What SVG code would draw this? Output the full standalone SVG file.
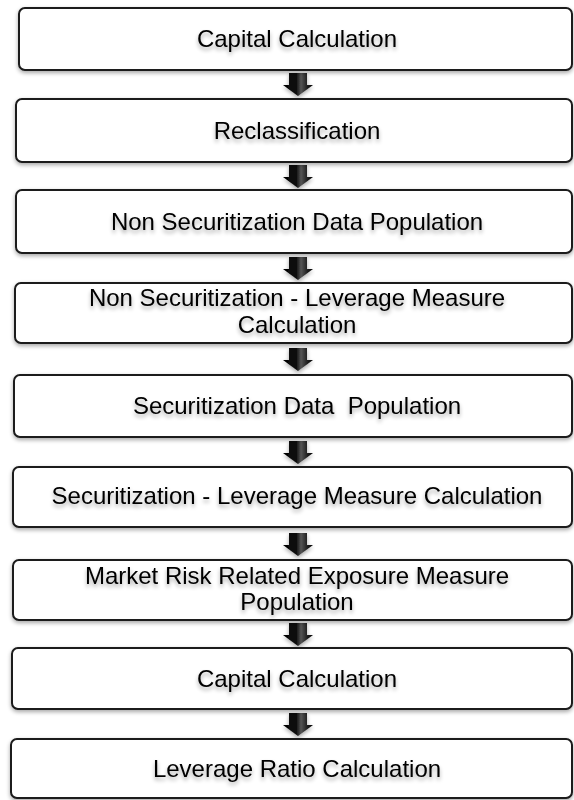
<svg xmlns="http://www.w3.org/2000/svg" width="574" height="800" viewBox="0 0 574 800">
<defs>
<filter id="sh" x="-5%" y="-20%" width="110%" height="150%">
<feGaussianBlur in="SourceAlpha" stdDeviation="2"/>
<feOffset dx="0" dy="2" result="b"/>
<feComponentTransfer><feFuncA type="linear" slope="0.35"/></feComponentTransfer>
<feMerge><feMergeNode/><feMergeNode in="SourceGraphic"/></feMerge>
</filter>
<filter id="tsh" x="-5%" y="-30%" width="110%" height="170%">
<feGaussianBlur in="SourceAlpha" stdDeviation="2"/>
<feOffset dx="0" dy="3" result="b"/>
<feComponentTransfer><feFuncA type="linear" slope="0.35"/></feComponentTransfer>
<feMerge><feMergeNode/><feMergeNode in="SourceGraphic"/></feMerge>
</filter>
<linearGradient id="ag" x1="0" y1="0" x2="1" y2="0">
<stop offset="0" stop-color="#000"/>
<stop offset="0.45" stop-color="#111"/>
<stop offset="0.6" stop-color="#555"/>
<stop offset="0.8" stop-color="#222"/>
<stop offset="1" stop-color="#000"/>
</linearGradient>
<path id="arr" d="M-9,0 H9 V12 H15 L0,23 L-15,12 H-9 Z"/>
</defs>
<style>
.box{fill:#fff;stroke:#1a1a1a;stroke-width:2}
.t{font-family:"Liberation Sans",Arial,sans-serif;font-size:24px;fill:#000;text-anchor:middle}
</style>
<g id="connectors" fill="url(#ag)" filter="url(#sh)">
<use href="#arr" x="298" y="73"/>
<use href="#arr" x="298" y="165"/>
<use href="#arr" x="298" y="257"/>
<use href="#arr" x="298" y="348"/>
<use href="#arr" x="298" y="441"/>
<use href="#arr" x="298" y="533"/>
<use href="#arr" x="298" y="623"/>
<use href="#arr" x="298" y="713"/>
</g>
<g id="n1"><rect class="box" x="19" y="8" width="553" height="62" rx="6" filter="url(#sh)"/><text class="t" x="297" y="47" filter="url(#tsh)">Capital Calculation</text></g>
<g id="n2"><rect class="box" x="16" y="99" width="556" height="63" rx="6" filter="url(#sh)"/><text class="t" x="297" y="139" filter="url(#tsh)">Reclassification</text></g>
<g id="n3"><rect class="box" x="16" y="190" width="556" height="63" rx="6" filter="url(#sh)"/><text class="t" x="297" y="230" filter="url(#tsh)">Non Securitization Data Population</text></g>
<g id="n4"><rect class="box" x="15" y="283" width="557" height="60" rx="6" filter="url(#sh)"/><text class="t" x="297" y="306" filter="url(#tsh)">Non Securitization - Leverage Measure</text><text class="t" x="297" y="333" filter="url(#tsh)">Calculation</text></g>
<g id="n5"><rect class="box" x="14" y="375" width="558" height="62" rx="6" filter="url(#sh)"/><text class="t" x="297" y="414" filter="url(#tsh)" xml:space="preserve">Securitization Data  Population</text></g>
<g id="n6"><rect class="box" x="13" y="467" width="559" height="60" rx="6" filter="url(#sh)"/><text class="t" x="297" y="504" filter="url(#tsh)">Securitization - Leverage Measure Calculation</text></g>
<g id="n7"><rect class="box" x="13" y="560" width="559" height="60" rx="6" filter="url(#sh)"/><text class="t" x="297" y="584" filter="url(#tsh)">Market Risk Related Exposure Measure</text><text class="t" x="297" y="610" filter="url(#tsh)">Population</text></g>
<g id="n8"><rect class="box" x="12" y="648" width="560" height="61" rx="6" filter="url(#sh)"/><text class="t" x="297" y="687" filter="url(#tsh)">Capital Calculation</text></g>
<g id="n9"><rect class="box" x="11" y="739" width="561" height="59" rx="6" filter="url(#sh)"/><text class="t" x="297" y="777" filter="url(#tsh)">Leverage Ratio Calculation</text></g>
</svg>
